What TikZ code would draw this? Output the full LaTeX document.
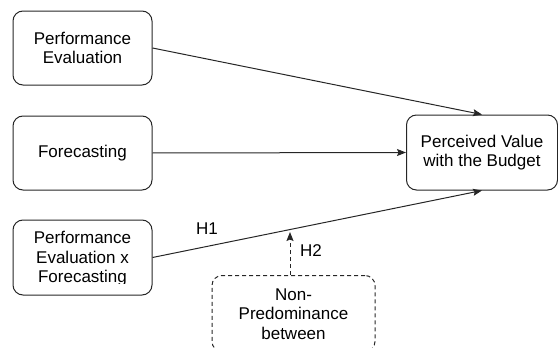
\documentclass[tikz,border=0pt]{standalone}
\usepackage{fontspec}
\setmainfont{Liberation Sans}
\usetikzlibrary{arrows.meta}
\begin{document}
\begin{tikzpicture}[x=1pt,y=-1pt,
  box/.style={draw=black!85, line width=1pt, rounded corners=10pt, align=center,
    inner sep=0pt, font=\fontsize{17}{19.5}\selectfont},
  lbl/.style={font=\fontsize{17}{19.5}\selectfont, inner sep=0pt},
  dsh/.style={dash pattern=on 4pt off 3pt},
  arr/.style={draw=black!85, line width=1pt, -{Stealth[length=9pt,width=7pt,inset=1.5pt]}}]
\useasboundingbox (0,0) rectangle (558,348);
\node[box, minimum width=139pt, minimum height=74pt] (pe) at (82.5,48) {Performance\\Evaluation};
\node[box, minimum width=139pt, minimum height=74pt] (fc) at (82.5,153) {Forecasting};
\node[box, minimum width=139pt, minimum height=75pt] (pexf) at (82.5,257.5) {};
\begin{scope}
\clip (13,220) rectangle (152,283.5);
\node[lbl, align=center] (pexft) at (82.5,259) {Performance\\Evaluation x\\Forecasting};
\end{scope}
\node[box, minimum width=151pt, minimum height=75pt] (pv) at (482,152.5) {Perceived Value\\with the Budget};
\begin{scope}
\clip (0,0) rectangle (558,348);
\node[box, dsh, minimum width=163pt, minimum height=76pt, anchor=north] (np) at (293.5,275) {};
\node[lbl, align=center] (npt) at (293.5,314) {Non-\\Predominance\\between};
\end{scope}
\draw[arr] (pe.east) -- (pv.north);
\draw[arr] (fc.east) -- (pv.west);
\draw[arr] (pexf.east) -- (pv.south);
\coordinate (h2end) at (290,232);
\draw[arr, dsh] (np.north -| h2end) -- (h2end);
\node[lbl] (h1) at (207,229) {H1};
\node[lbl] (h2) at (311,251) {H2};
\end{tikzpicture}
\end{document}
